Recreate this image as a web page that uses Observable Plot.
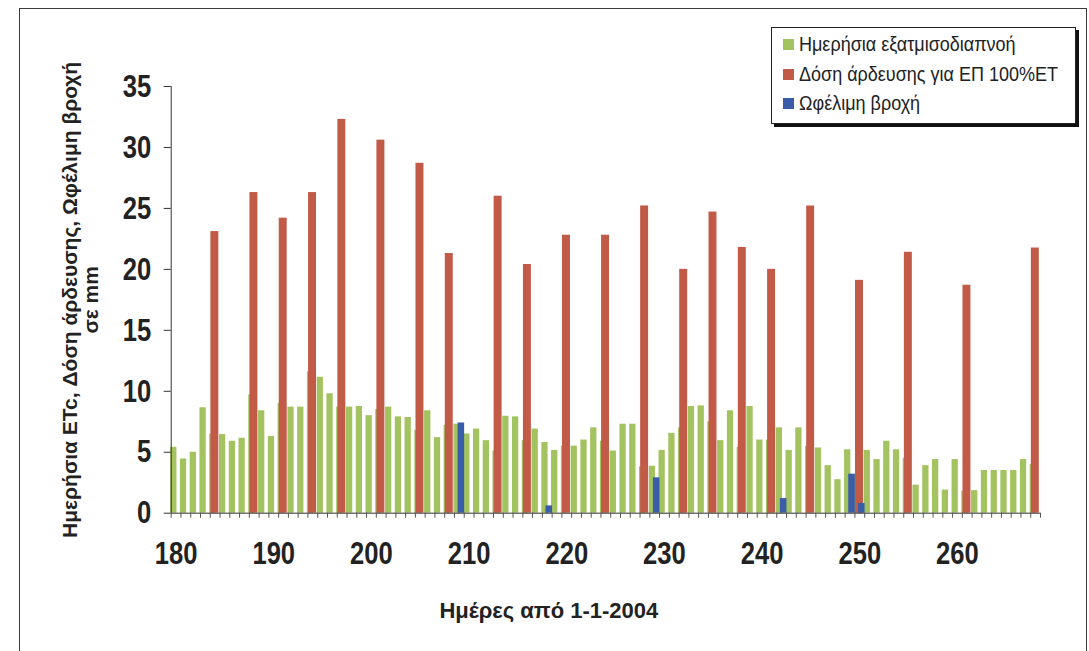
<!DOCTYPE html>
<html><head><meta charset="utf-8">
<script src="https://cdn.jsdelivr.net/npm/d3@7"></script>
<script src="https://cdn.jsdelivr.net/npm/@observablehq/plot@0.6"></script>
<style>
body{margin:0;background:#fff;}
#wrap{position:relative;width:1089px;height:651px;overflow:hidden;background:#fff;}
#border{position:absolute;left:19px;top:8px;width:1066px;height:660px;border:1px solid #3a3a3a;}
#chart svg{position:absolute;left:0;top:0;}
#legend{position:absolute;left:771px;top:27px;width:303px;height:95px;border:1px solid #222;box-shadow:3px 3px 0 #111;background:#fff;font-family:"Liberation Sans",Arial,sans-serif;font-size:20px;color:#222;}
.row{position:absolute;left:11px;height:22px;display:flex;align-items:center;white-space:nowrap;}
.sw{width:11px;height:11px;margin-right:5px;flex:none;}
.row span{display:inline-block;transform:scaleX(0.9);transform-origin:left center;}
</style></head>
<body><div id="wrap"><div id="border"></div><div id="chart"></div><div id="legend"></div></div>
<script>
// Categories: days since 1-1-2004
const days = d3.range(180, 269);
// Daily ETc (mm), one per day 180..268
const etc = [5.4,4.45,5.0,8.65,6.5,6.45,5.9,6.15,9.7,8.4,
             6.3,9.0,8.7,8.7,11.6,11.15,9.8,8.7,8.7,8.75,
             8.0,8.5,8.7,7.9,7.85,6.8,8.4,6.2,7.2,7.3,
             6.5,6.9,5.95,5.1,7.95,7.9,5.95,6.9,5.8,5.15,
             5.5,5.5,6.0,7.0,5.9,5.1,7.3,7.3,3.8,3.85,
             5.15,6.55,7.0,8.75,8.8,7.5,5.95,8.4,5.4,8.75,
             6.0,6.0,7.0,5.15,7.0,5.5,5.35,3.9,2.75,5.2,
             3.2,5.15,4.4,5.9,5.2,4.5,2.3,3.9,4.4,1.9,
             4.4,1.8,1.85,3.5,3.5,3.5,3.5,4.4,4.0];
// Irrigation dose for 100% ET (mm)
const irrDays = [184,188,191,194,197,201,205,208,213,216,220,224,228,232,235,238,241,245,250,255,261,268];
const irrDose = [23.1,26.3,24.2,26.3,32.3,30.6,28.7,21.3,26.0,20.4,22.8,22.8,25.2,20.0,24.7,21.8,20.0,25.2,19.1,21.4,18.7,21.75];
// Effective rainfall (mm)
const rainDays = [209,218,229,242,249,250];
const rainMm = [7.4,0.6,2.9,1.2,3.2,0.8];

const yTicks = [0,5,10,15,20,25,30,35];
const xLabelDays = [180,190,200,210,220,230,240,250,260];
const seriesNames = ["Ημερήσια εξατμισοδιαπνοή","Δόση άρδευσης για ΕΠ 100%ΕΤ","Ωφέλιμη βροχή"];
const seriesColors = ["#a3c260","#c25a48","#3b5ca8"];
const xTitle = "Ημέρες από 1-1-2004";
const yTitle = "Ημερήσια ETc, Δόση άρδευσης, Ωφέλιμη βροχή\nσε mm";

const etcData = days.map((d,i)=>({day:d, v:etc[i]}));
const irrData = irrDays.map((d,i)=>({day:d, v:irrDose[i]}));
const rainData = rainDays.map((d,i)=>({day:d, v:rainMm[i]}));
const boundaries = days.map(d=>d-0.5).concat([days[days.length-1]+0.5]);
const font = '"Liberation Sans",Arial,sans-serif';

const chart = Plot.plot({
  width:1089, height:651,
  marginLeft:170.7, marginRight:49, marginTop:86, marginBottom:138.3,
  x:{type:"linear", domain:[days[0]-0.5, days[days.length-1]+0.5]},
  y:{domain:[0,35]},
  style:{fontFamily:font, color:"#222", background:"transparent"},
  marks:[
    Plot.rectY(etcData,{x1:d=>d.day-0.5, x2:d=>d.day+0.5, y:"v", fill:seriesColors[0], insetLeft:1.75, insetRight:1.75, dx:-2.3}),
    Plot.rectY(irrData,{x1:d=>d.day-0.5, x2:d=>d.day+0.5, y:"v", fill:seriesColors[1], insetLeft:0.9, insetRight:0.9, dx:-0.3}),
    Plot.rectY(rainData,{x1:d=>d.day-0.5, x2:d=>d.day+0.5, y:"v", fill:seriesColors[2], insetLeft:1.6, insetRight:1.6, dx:2}),
    Plot.ruleY([0],{stroke:"#333"}),
    Plot.ruleX([days[0]-0.5],{stroke:"#333"}),
    Plot.axisX({ticks:boundaries, tickSize:5, tickFormat:()=>"", stroke:"#555", label:null}),
    Plot.axisX({ticks:xLabelDays, tickSize:0, tickPadding:28, fontSize:32, fontWeight:"bold", tickFormat:d=>String(d), label:null}),
    Plot.axisY({ticks:yTicks, tickSize:7, tickPadding:13, fontSize:32, fontWeight:"bold", stroke:"#333", label:null}),
    Plot.text([xTitle],{text:d=>d, frameAnchor:"bottom", dy:105, dx:-57, fontSize:22, fontWeight:"bold", ariaLabel:"xtitle"}),
    Plot.text([yTitle],{text:d=>d, frameAnchor:"left", textAnchor:"middle", dx:-90, rotate:-90, fontSize:21, fontWeight:"bold", lineHeight:1.0, ariaLabel:"ytitle"})
  ]
});

// Narrow (condensed) look of the original bold axis font
function condense(sel, k){
  chart.querySelectorAll(sel).forEach(t=>{
    const x = parseFloat(t.getAttribute("x")) || 0;
    t.removeAttribute("x");
    const tr = t.getAttribute("transform") || "";
    t.setAttribute("transform", `${tr} translate(${x},0) scale(${k},1)`);
  });
}
condense('g[aria-label="x-axis tick label"] text', 0.8);
condense('g[aria-label="y-axis tick label"] text', 0.8);
condense('g[aria-label="xtitle"] text', 0.8);
condense('g[aria-label="ytitle"] text', 0.82);
document.getElementById("chart").appendChild(chart);

const legend = document.getElementById("legend");
const rowTops = [5,35,64];
seriesNames.forEach((name,i)=>{
  const row = document.createElement("div");
  row.className = "row";
  row.style.top = rowTops[i] + "px";
  const sw = document.createElement("div");
  sw.className = "sw";
  sw.style.background = seriesColors[i];
  const t = document.createElement("span");
  t.textContent = name;
  row.appendChild(sw); row.appendChild(t);
  legend.appendChild(row);
});
</script></body></html>
